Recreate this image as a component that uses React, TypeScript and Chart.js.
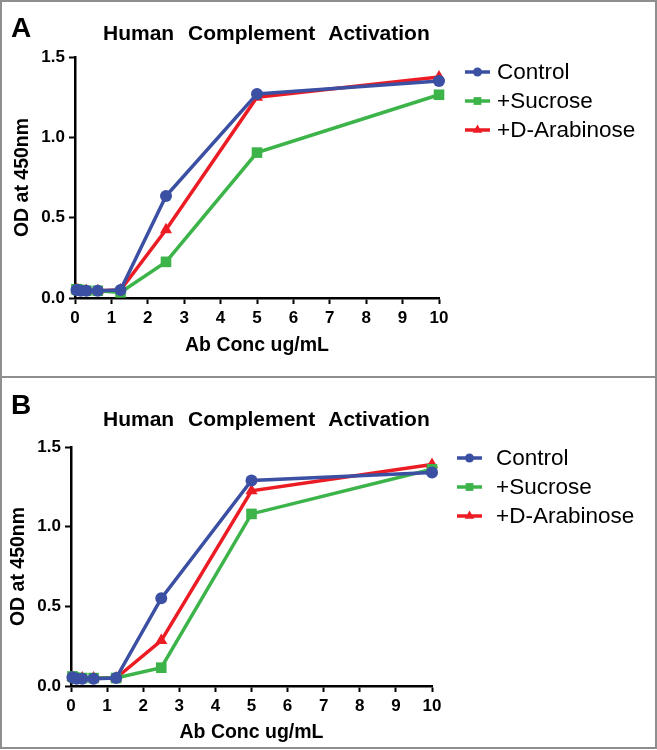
import React, { useEffect, useRef } from "react";
import { Chart, registerables } from "chart.js";

Chart.register(...registerables);

// ---------- data ----------
const concentrations = [0.039, 0.078, 0.156, 0.3125, 0.625, 1.25, 2.5, 5, 10];
const seriesNames = ["Control", "+Sucrose", "+D-Arabinose"];
const xTickValues = [0, 1, 2, 3, 4, 5, 6, 7, 8, 9, 10];
const yTickValues = [0, 0.5, 1.0, 1.5];

const panelAControl = [0.05, 0.05, 0.045, 0.045, 0.045, 0.05, 0.635, 1.27, 1.35];
const panelASucrose = [0.055, 0.05, 0.05, 0.045, 0.045, 0.035, 0.225, 0.905, 1.265];
const panelAArabinose = [0.05, 0.05, 0.045, 0.045, 0.045, 0.05, 0.425, 1.25, 1.375];

const panelBControl = [0.055, 0.05, 0.045, 0.045, 0.045, 0.05, 0.55, 1.29, 1.34];
const panelBSucrose = [0.06, 0.055, 0.05, 0.05, 0.05, 0.05, 0.115, 1.08, 1.36];
const panelBArabinose = [0.055, 0.05, 0.05, 0.05, 0.05, 0.05, 0.285, 1.225, 1.39];

const chartTitle = "Human Complement Activation";
const xTitle = "Ab Conc ug/mL";
const yTitle = "OD at 450nm";

// ---------- styles ----------
const FONT = "'Liberation Sans', Arial, Helvetica, sans-serif";
const colors = ["#3b4fa3", "#3cb44a", "#ec1c24"];
const pointStyles = ["circle", "rect", "triangle"];
const pointRadii = [6, 7.5, 7];
const legendRadii = [4.5, 5.5, 5.5];

type PanelCfg = {
  letter: string;
  top: number;
  height: number;
  series: number[][];
  pad: { left: number; right: number; top: number; bottom: number };
  plotLeft: number;
  plotBottom: number;
  legendTop: number;
  legendLineStart: number;
  legendTextStart: number;
  letterTop: number;
  titleTop: number;
};

const panels: PanelCfg[] = [
  {
    letter: "A",
    top: 0,
    height: 377,
    series: [panelAControl, panelASucrose, panelAArabinose],
    pad: { left: 10, right: 218, top: 57, bottom: 16 },
    plotLeft: 75,
    plotBottom: 298,
    legendTop: 15,
    legendLineStart: 26,
    legendTextStart: 58,
    letterTop: 14,
    titleTop: 22,
  },
  {
    letter: "B",
    top: 377,
    height: 371,
    series: [panelBControl, panelBSucrose, panelBArabinose],
    pad: { left: 6, right: 225, top: 70, bottom: 0 },
    plotLeft: 71,
    plotBottom: 309,
    legendTop: 11,
    legendLineStart: 25,
    legendTextStart: 64,
    letterTop: 14,
    titleTop: 31,
  },
];

function drawMarker(ctx: CanvasRenderingContext2D, style: string, x: number, y: number, r: number) {
  ctx.beginPath();
  if (style === "circle") {
    ctx.arc(x, y, r, 0, Math.PI * 2);
  } else if (style === "rect") {
    const s = r * Math.SQRT1_2;
    ctx.rect(x - s, y - s, 2 * s, 2 * s);
  } else {
    ctx.moveTo(x, y - r);
    ctx.lineTo(x + r * Math.sin((2 * Math.PI) / 3), y - r * Math.cos((2 * Math.PI) / 3));
    ctx.lineTo(x + r * Math.sin((4 * Math.PI) / 3), y - r * Math.cos((4 * Math.PI) / 3));
    ctx.closePath();
  }
  ctx.fill();
}

const sideLegend = {
  id: "sideLegend",
  afterDraw(chart: any, _args: any, opts: any) {
    const { ctx, chartArea } = chart;
    ctx.save();
    chart.data.datasets.forEach((ds: any, i: number) => {
      const y = chartArea.top + opts.top + i * 29;
      const x0 = chartArea.right + opts.lineStart;
      const x1 = x0 + 25;
      ctx.strokeStyle = ds.borderColor;
      ctx.fillStyle = ds.borderColor;
      ctx.lineWidth = 3.5;
      ctx.beginPath();
      ctx.moveTo(x0, y);
      ctx.lineTo(x1, y);
      ctx.stroke();
      drawMarker(ctx, pointStyles[i], (x0 + x1) / 2, y, legendRadii[i]);
      ctx.fillStyle = "#000";
      ctx.font = `22.5px ${FONT}`;
      ctx.textAlign = "left";
      ctx.textBaseline = "middle";
      ctx.fillText(ds.label, chartArea.right + opts.textStart, y + 1);
    });
    ctx.restore();
  },
};

function Panel({ cfg }: { cfg: PanelCfg }) {
  const ref = useRef<HTMLCanvasElement>(null);
  useEffect(() => {
    const canvas = ref.current!;
    const chart = new Chart(canvas, {
      type: "line",
      data: {
        datasets: cfg.series.map((vals, i) => ({
          label: seriesNames[i],
          data: concentrations.map((x, j) => ({ x, y: vals[j] })),
          borderColor: colors[i],
          backgroundColor: colors[i],
          borderWidth: 3.5,
          pointStyle: pointStyles[i] as any,
          pointRadius: pointRadii[i],
          pointBorderWidth: 0,
          pointBackgroundColor: colors[i],
          clip: false as any,
          tension: 0,
        })),
      },
      options: {
        responsive: false,
        animation: false,
        devicePixelRatio: 1,
        layout: { padding: cfg.pad },
        plugins: {
          legend: { display: false },
          title: { display: false },
          tooltip: { enabled: false },
          sideLegend: {
            top: cfg.legendTop,
            lineStart: cfg.legendLineStart,
            textStart: cfg.legendTextStart,
          },
        } as any,
        scales: {
          x: {
            type: "linear",
            min: 0,
            max: 10,
            afterBuildTicks: (s: any) => {
              s.ticks = xTickValues.map((v) => ({ value: v }));
            },
            afterFit: (s: any) => {
              s.height = cfg.height - cfg.pad.bottom - cfg.plotBottom;
            },
            ticks: {
              color: "#000",
              padding: 4,
              font: { family: FONT, size: 17, weight: "bold" },
              maxRotation: 0,
              autoSkip: false,
            },
            grid: {
              drawOnChartArea: false,
              drawTicks: true,
              tickLength: 6,
              tickColor: "#000",
              tickWidth: 2,
            },
            border: { color: "#000", width: 2.5 },
            title: {
              display: true,
              text: xTitle,
              color: "#000",
              font: { family: FONT, size: 19.5, weight: "bold" },
              padding: { top: 0, bottom: 4 },
            },
          },
          y: {
            type: "linear",
            min: 0,
            max: 1.5,
            afterBuildTicks: (s: any) => {
              s.ticks = yTickValues.map((v) => ({ value: v }));
            },
            afterFit: (s: any) => {
              s.width = cfg.plotLeft - cfg.pad.left;
            },
            ticks: {
              color: "#000",
              padding: 4,
              font: { family: FONT, size: 17, weight: "bold" },
              callback: (v: any) => Number(v).toFixed(1),
            },
            grid: {
              drawOnChartArea: false,
              drawTicks: true,
              tickLength: 6,
              tickColor: "#000",
              tickWidth: 2,
            },
            border: { color: "#000", width: 2.5 },
            title: {
              display: true,
              text: yTitle,
              color: "#000",
              font: { family: FONT, size: 19.5, weight: "bold" },
              padding: { top: 1, bottom: 0 },
            },
          },
        },
      },
      plugins: [sideLegend],
    });
    return () => chart.destroy();
  }, [cfg]);

  return (
    <div style={{ position: "absolute", left: 0, top: cfg.top, width: 657, height: cfg.height }}>
      <canvas ref={ref} width={657} height={cfg.height} style={{ position: "absolute", left: 0, top: 0 }} />
      <div
        style={{
          position: "absolute",
          left: 11,
          top: cfg.letterTop,
          fontFamily: FONT,
          fontWeight: "bold",
          fontSize: 28,
          lineHeight: "28px",
          color: "#000",
        }}
      >
        {cfg.letter}
      </div>
      <div
        style={{
          position: "absolute",
          left: 103,
          top: cfg.titleTop,
          fontFamily: FONT,
          fontWeight: "bold",
          fontSize: 21,
          lineHeight: "21px",
          wordSpacing: 8,
          color: "#000",
          whiteSpace: "nowrap",
        }}
      >
        {chartTitle}
      </div>
    </div>
  );
}

export default function App() {
  useEffect(() => {
    document.body.style.margin = "0";
  }, []);
  return (
    <div style={{ position: "absolute", left: 0, top: 0, width: 657, height: 750, background: "#fff" }}>
      {panels.map((p) => (
        <Panel key={p.letter} cfg={p} />
      ))}
      <div
        style={{
          position: "absolute",
          left: 0,
          top: 0,
          width: 657,
          height: 749,
          boxSizing: "border-box",
          border: "2px solid #8e8e8e",
          pointerEvents: "none",
        }}
      />
      <div style={{ position: "absolute", left: 0, top: 376, width: 657, height: 2, background: "#8e8e8e" }} />
    </div>
  );
}
